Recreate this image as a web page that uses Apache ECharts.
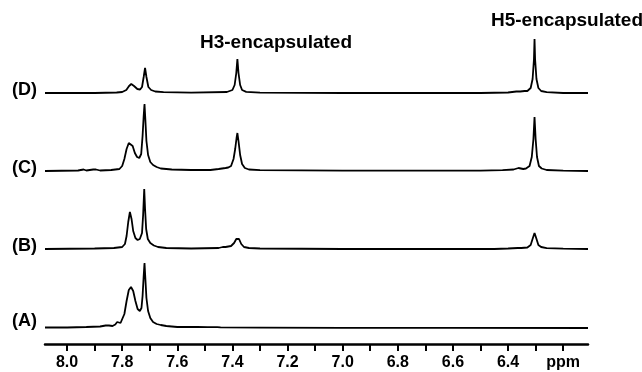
<!DOCTYPE html>
<html>
<head>
<meta charset="utf-8">
<script src="https://cdn.jsdelivr.net/npm/echarts@6/dist/echarts.min.js"></script>
<style>
  html, body { margin: 0; padding: 0; background: #fff; }
  #chart { width: 642px; height: 372px; }
</style>
</head>
<body>
<div id="chart"></div>
<script>
// chemical shift (ppm), intensity (arbitrary)
const traceA = [
  [8.08, 0.5], [8.00, 0.5], [7.93, 1], [7.88, 1.5], [7.86, 2.5], [7.854, 4], [7.848, 2.5],
  [7.835, 2], [7.825, 3.5], [7.818, 6], [7.813, 7], [7.806, 5], [7.80, 7], [7.792, 14],
  [7.784, 27], [7.776, 38], [7.768, 41], [7.76, 37], [7.752, 27], [7.744, 19], [7.736, 17],
  [7.73, 20], [7.726, 32], [7.722, 52], [7.719, 65], [7.716, 50], [7.712, 30], [7.706, 17],
  [7.698, 10], [7.688, 6], [7.675, 4], [7.66, 3], [7.64, 2], [7.60, 1], [7.54, 1],
  [7.534, 2.5], [7.528, 1], [7.49, 0.8], [7.455, 0.8], [7.449, 2.5], [7.443, 0.6],
  [7.30, 0.4], [7.00, 0.2], [6.60, 0.2], [6.11, 0]
];
const traceB = [
  [8.08, 0], [7.90, 0.5], [7.83, 1], [7.80, 2], [7.79, 5], [7.784, 13], [7.778, 27],
  [7.772, 37], [7.766, 30], [7.76, 18], [7.752, 11], [7.744, 9], [7.736, 10], [7.728, 16],
  [7.724, 34], [7.72, 60], [7.717, 40], [7.713, 20], [7.707, 10], [7.698, 6], [7.685, 3.5],
  [7.67, 2], [7.64, 1], [7.55, 0.5], [7.45, 1], [7.435, 2], [7.425, 2], [7.405, 3],
  [7.394, 6], [7.386, 10], [7.381, 12], [7.376, 10], [7.368, 5], [7.358, 2], [7.34, 1],
  [7.30, 0.5], [7.00, 0], [6.45, 0], [6.40, 0.5], [6.365, 1], [6.358, 2.5], [6.352, 1],
  [6.33, 1.5], [6.318, 4], [6.31, 11], [6.304, 16], [6.298, 11], [6.29, 4], [6.28, 2],
  [6.26, 0.8], [6.20, 0.3], [6.11, 0]
];
const traceC = [
  [8.08, 0], [7.96, 0.5], [7.94, 1.5], [7.93, 0.5], [7.905, 1.5], [7.895, 1.5], [7.88, 0.5],
  [7.84, 1], [7.81, 2], [7.80, 5], [7.792, 12], [7.784, 22], [7.776, 28], [7.769, 29],
  [7.762, 25], [7.754, 18], [7.746, 14], [7.738, 13], [7.731, 17], [7.726, 35], [7.722, 55],
  [7.719, 67], [7.716, 52], [7.712, 30], [7.706, 16], [7.698, 9], [7.688, 6], [7.675, 4],
  [7.66, 2.5], [7.62, 1.5], [7.55, 1], [7.48, 1], [7.45, 2], [7.425, 3], [7.415, 3.5],
  [7.405, 5], [7.396, 12], [7.39, 22], [7.385, 33], [7.382, 38], [7.378, 30], [7.372, 16],
  [7.365, 7], [7.355, 3], [7.34, 1.5], [7.30, 0.8], [7.00, 0.3], [6.50, 0.3], [6.42, 0.8],
  [6.38, 1.5], [6.362, 3], [6.355, 2], [6.345, 2], [6.335, 2.5], [6.322, 5], [6.314, 14],
  [6.308, 32], [6.304, 54], [6.30, 32], [6.295, 14], [6.288, 5], [6.278, 2.5], [6.26, 1],
  [6.20, 0.3], [6.11, 0]
];
const traceD = [
  [8.08, 0], [7.90, 0], [7.82, 0.5], [7.80, 1], [7.785, 3], [7.775, 7], [7.767, 9],
  [7.757, 7], [7.745, 4], [7.735, 3.5], [7.728, 6], [7.722, 16], [7.717, 25], [7.712, 16],
  [7.705, 6], [7.695, 3], [7.68, 1.5], [7.65, 0.8], [7.55, 0.3], [7.42, 1], [7.40, 3],
  [7.392, 8], [7.386, 20], [7.382, 34], [7.378, 20], [7.372, 8], [7.365, 3], [7.35, 1.2],
  [7.30, 0.3], [7.00, 0], [6.50, 0], [6.40, 0.5], [6.37, 1.5], [6.364, 3], [6.356, 1.5],
  [6.34, 2], [6.33, 2], [6.318, 5], [6.311, 14], [6.306, 34], [6.304, 54], [6.302, 34],
  [6.297, 14], [6.29, 5], [6.28, 2], [6.26, 0.8], [6.20, 0], [6.11, 0]
];

const traces = [traceA, traceB, traceC, traceD];
const traceNames = ['(A)', '(B)', '(C)', '(D)'];
// baseline heights above the ppm axis, in px
const baselineLift = [16, 95, 173, 251];
// label centre offset above each baseline
const labelLift = [7, 3, 3, 3];

const tickValues = [8.0, 7.9, 7.8, 7.7, 7.6, 7.5, 7.4, 7.3, 7.2, 7.1, 7.0, 6.9, 6.8, 6.7, 6.6, 6.5, 6.4, 6.3, 6.2];
const labelValues = [8.0, 7.8, 7.6, 7.4, 7.2, 7.0, 6.8, 6.6, 6.4, 6.2];
const tickLabels = ['8.0', '7.8', '7.6', '7.4', '7.2', '7.0', '6.8', '6.6', '6.4', 'ppm'];

const FONT = '"Liberation Sans", Arial, Helvetica, sans-serif';
const GRID_TOP = 20;
const GRID_BOTTOM = 28;
const PLOT_H = 372 - GRID_TOP - GRID_BOTTOM;

const chart = echarts.init(document.getElementById('chart'));

const option = {
  animation: false,
  grid: { left: 45, right: 54, top: GRID_TOP, bottom: GRID_BOTTOM, containLabel: false },
  xAxis: {
    type: 'value',
    inverse: true,
    min: 6.11,
    max: 8.08,
    axisLine: { show: true, onZero: false, lineStyle: { color: '#000', width: 2.5 } },
    axisTick: { show: true, customValues: tickValues, length: 7, lineStyle: { color: '#000', width: 2 } },
    axisLabel: {
      customValues: labelValues,
      margin: 11,
      color: '#000',
      fontSize: 16,
      fontWeight: 'bold',
      fontFamily: FONT,
      formatter: v => {
        const i = labelValues.findIndex(x => Math.abs(x - v) < 1e-6);
        return i >= 0 ? tickLabels[i] : '';
      }
    },
    splitLine: { show: false }
  },
  yAxis: baselineLift.map(lift => ({
    type: 'value',
    show: false,
    min: -lift,
    max: PLOT_H - lift,
    splitLine: { show: false }
  })),
  series: traces.map((d, i) => ({
    name: traceNames[i],
    type: 'line',
    yAxisIndex: i,
    data: d,
    showSymbol: false,
    clip: false,
    lineStyle: { color: '#000', width: 1.8 }
  })),
  graphic: [
    ...traceNames.map((t, i) => ({
      type: 'text',
      left: 12,
      top: 372 - GRID_BOTTOM - baselineLift[i] - labelLift[i] - 9,
      style: { text: t, fill: '#000', font: 'bold 18px ' + FONT }
    })),
    { type: 'text', left: 200, top: 33, style: { text: 'H3-encapsulated', fill: '#000', font: 'bold 19px ' + FONT } },
    { type: 'text', left: 491, top: 11, style: { text: 'H5-encapsulated', fill: '#000', font: 'bold 19px ' + FONT } }
  ]
};

chart.setOption(option);
</script>
</body>
</html>
